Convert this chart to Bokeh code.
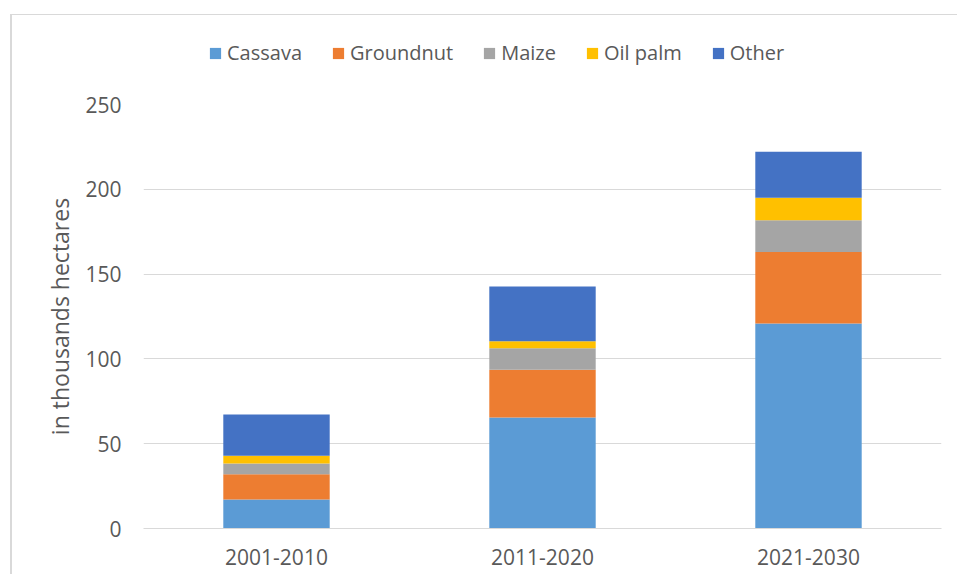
from bokeh.plotting import figure
from bokeh.layouts import column
from bokeh.models import FactorRange, Range1d, FixedTicker, Legend
from bokeh.embed import file_html
from bokeh.resources import INLINE

periods = ["2001-2010", "2011-2020", "2021-2030"]
series = ["Cassava", "Groundnut", "Maize", "Oil palm", "Other"]
cassava = [17.1, 65.4, 120.9]
groundnut = [14.9, 28.2, 42.2]
maize = [6.3, 12.7, 18.7]
oil_palm = [4.6, 4.1, 13.2]
other = [24.3, 32.3, 27.1]
y_ticks = [0, 50, 100, 150, 200, 250]
colors = ["#5B9BD5", "#ED7D31", "#A5A5A5", "#FFC000", "#4472C4"]

data = {"period": periods, "Cassava": cassava, "Groundnut": groundnut,
        "Maize": maize, "Oil palm": oil_palm, "Other": other}

FONT = "Open Sans"
W = 945

# ---- legend strip (separate figure above the chart) ----
leg = figure(width=W, height=75, x_range=Range1d(0, 1), y_range=Range1d(0, 1),
             output_backend="svg", toolbar_location=None,
             min_border_left=0, min_border_right=0, min_border_top=0,
             min_border_bottom=0)
leg.axis.visible = False
leg.grid.visible = False
leg.outline_line_color = None
dummy = [leg.vbar(x=[0.5], top=[0], bottom=[0], width=0, fill_color=c,
                  line_color=None) for c in colors]
legend = Legend(items=[(s, [r]) for s, r in zip(series, dummy)],
                orientation="horizontal", location=(65, 24),
                label_text_font=FONT, label_text_font_size="20px",
                label_text_color="#595959", glyph_width=14, glyph_height=14,
                label_standoff=5, spacing=29, border_line_color=None,
                background_fill_alpha=0, margin=0, padding=0)
leg.add_layout(legend, "center")

# ---- chart ----
p = figure(x_range=FactorRange(*periods), y_range=Range1d(0, 250),
           width=W, height=484, output_backend="svg", toolbar_location=None,
           min_border_left=131, min_border_right=16, min_border_top=14,
           min_border_bottom=46)

p.vbar_stack(series, x="period", width=0.4, color=colors,
             source=data, line_color=None)

p.outline_line_color = None
p.xgrid.grid_line_color = None
p.ygrid.grid_line_color = "#d9d9d9"
p.ygrid.grid_line_width = 1
p.yaxis.ticker = FixedTicker(ticks=y_ticks)
p.yaxis.axis_line_color = None
p.yaxis.major_tick_line_color = None
p.yaxis.minor_tick_line_color = None
p.yaxis.major_label_text_font = FONT
p.yaxis.major_label_text_font_size = "21px"
p.yaxis.major_label_text_color = "#595959"
p.yaxis.major_label_standoff = 16
p.yaxis.axis_label = "in thousands hectares"
p.yaxis.axis_label_text_font = FONT
p.yaxis.axis_label_text_font_size = "23px"
p.yaxis.axis_label_text_font_style = "normal"
p.yaxis.axis_label_text_color = "#595959"
p.yaxis.axis_label_standoff = 6

p.xaxis.axis_line_color = "#d9d9d9"
p.xaxis.major_tick_line_color = None
p.xaxis.minor_tick_line_color = None
p.xaxis.major_label_text_font = FONT
p.xaxis.major_label_text_font_size = "21px"
p.xaxis.major_label_text_color = "#595959"
p.xaxis.major_label_standoff = 14

page = column(leg, p, spacing=0,
              styles={"border-left": "2px solid #d9d9d9",
                      "border-top": "1px solid #d9d9d9",
                      "margin-left": "10px", "margin-top": "14px"})
open("out.html", "w").write(file_html(page, INLINE))
